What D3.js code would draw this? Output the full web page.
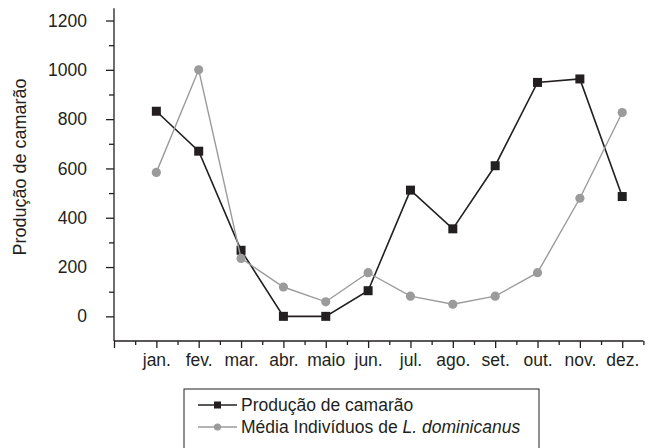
<!DOCTYPE html>
<html>
<head>
<meta charset="utf-8">
<script src="https://cdn.jsdelivr.net/npm/d3@7"></script>
<style>
  body { margin: 0; background: #fff; }
  svg { display: block; font-family: "Liberation Sans", Arial, sans-serif; }
</style>
</head>
<body>
<svg width="658" height="448"></svg>
<script>
// data
const months = ["jan.", "fev.", "mar.", "abr.", "maio", "jun.", "jul.", "ago.", "set.", "out.", "nov.", "dez."];
const producao = [832, 670, 268, 0, 0, 104, 512, 355, 611, 949, 963, 486];
const mediaIndividuos = [584, 1000, 235, 119, 59, 177, 82, 49, 82, 177, 479, 827];
const yMajorTicks = [0, 200, 400, 600, 800, 1000, 1200];
const yMinorTicks = [100, 300, 500, 700, 900, 1100];

const ink = "#231f20";
const grey = "#9b9b9b";
const fontSize = "17.5px";

let svg = d3.select("svg");

let x = d3.scaleLinear()
    .domain([0, 12.5])
    .range([114, 643.4]);

let y = d3.scaleLinear()
    .domain([-100, 1250])
    .range([341, 8.2]);

// x axis: major ticks on months, minor ticks between
let xMajor = svg.append("g")
    .attr("transform", `translate(0, ${y(-100)})`)
    .call(d3.axisBottom(x)
        .tickValues(d3.range(0, 13))
        .tickSize(7)
        .tickPadding(6)
        .tickFormat(d => d === 0 ? "" : months[d - 1]));

let xMinor = svg.append("g")
    .attr("transform", `translate(0, ${y(-100)})`)
    .call(d3.axisBottom(x)
        .tickValues(d3.range(0.5, 12.6, 1))
        .tickSize(4)
        .tickFormat(""));

// y axis
let yMajor = svg.append("g")
    .attr("transform", `translate(${x(0)}, 0)`)
    .call(d3.axisLeft(y)
        .tickValues(yMajorTicks)
        .tickSize(8)
        .tickPadding(19)
        .tickFormat(d3.format("d")));

let yMinor = svg.append("g")
    .attr("transform", `translate(${x(0)}, 0)`)
    .call(d3.axisLeft(y)
        .tickValues(yMinorTicks)
        .tickSize(5)
        .tickFormat(""));

svg.selectAll(".tick line")
    .attr("stroke", ink)
    .attr("stroke-width", 1.3);
// domain paths carry outer ticks, draw plain lines instead
svg.selectAll(".domain").remove();

svg.append("line")
    .attr("x1", x(0)).attr("x2", x(12.5))
    .attr("y1", y(-100)).attr("y2", y(-100))
    .attr("stroke", ink).attr("stroke-width", 1.3);
svg.append("line")
    .attr("x1", x(0)).attr("x2", x(0))
    .attr("y1", y(-100)).attr("y2", y(1250))
    .attr("stroke", ink).attr("stroke-width", 1.3);

svg.selectAll(".tick text")
    .attr("fill", ink)
    .style("font-size", fontSize)
    .style("font-family", "'Liberation Sans', Arial, sans-serif");

// y axis title
svg.append("text")
    .attr("transform", `translate(26, 167) rotate(-90)`)
    .attr("text-anchor", "middle")
    .attr("fill", ink)
    .style("font-size", "18px")
    .text("Produção de camarão");

let line = d3.line()
    .x((d, i) => x(i + 1))
    .y(d => y(d));

// shrimp production (black squares)
svg.append("path")
    .datum(producao)
    .attr("fill", "none")
    .attr("stroke", ink)
    .attr("stroke-width", 1.6)
    .attr("d", line);

svg.selectAll("rect.prod")
    .data(producao)
    .enter().append("rect")
    .attr("class", "prod")
    .attr("x", (d, i) => x(i + 1) - 4.5)
    .attr("y", d => y(d) - 4.5)
    .attr("width", 9)
    .attr("height", 9)
    .attr("fill", ink);

// mean individuals (grey circles)
svg.append("path")
    .datum(mediaIndividuos)
    .attr("fill", "none")
    .attr("stroke", grey)
    .attr("stroke-width", 1.4)
    .attr("d", line);

svg.selectAll("circle.media")
    .data(mediaIndividuos)
    .enter().append("circle")
    .attr("class", "media")
    .attr("cx", (d, i) => x(i + 1))
    .attr("cy", d => y(d))
    .attr("r", 4.6)
    .attr("fill", grey);

// legend
let legend = svg.append("g");
legend.append("rect")
    .attr("x", 184).attr("y", 389)
    .attr("width", 355).attr("height", 80)
    .attr("fill", "none")
    .attr("stroke", ink)
    .attr("stroke-width", 1);

legend.append("line")
    .attr("x1", 198).attr("x2", 237)
    .attr("y1", 405).attr("y2", 405)
    .attr("stroke", ink).attr("stroke-width", 1.6);
legend.append("rect")
    .attr("x", 214).attr("y", 401.5)
    .attr("width", 7).attr("height", 7)
    .attr("fill", ink);
legend.append("text")
    .attr("x", 241).attr("y", 411)
    .attr("fill", ink)
    .style("font-size", fontSize)
    .text("Produção de camarão");

legend.append("line")
    .attr("x1", 198).attr("x2", 237)
    .attr("y1", 427).attr("y2", 427)
    .attr("stroke", grey).attr("stroke-width", 1.4);
legend.append("circle")
    .attr("cx", 217.5).attr("cy", 427)
    .attr("r", 3.6)
    .attr("fill", grey);
let t2 = legend.append("text")
    .attr("x", 241).attr("y", 433)
    .attr("fill", ink)
    .style("font-size", fontSize);
t2.append("tspan").text("Média Indivíduos de ");
t2.append("tspan").style("font-style", "italic").text("L. dominicanus");
</script>
</body>
</html>
